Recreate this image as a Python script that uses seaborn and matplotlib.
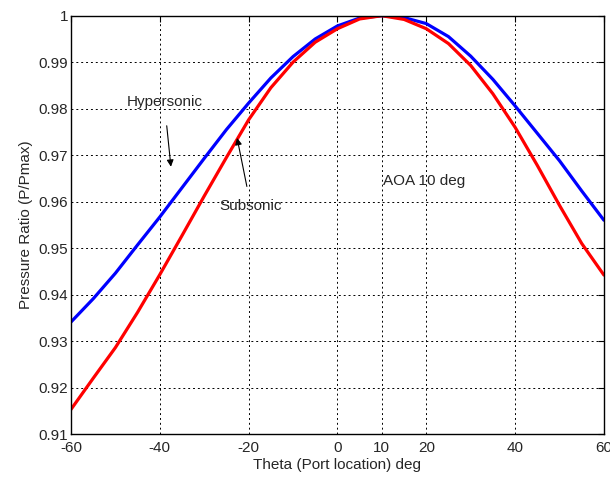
import numpy as np
import pandas as pd
import seaborn as sns
import matplotlib
matplotlib.use('Agg')
import matplotlib.pyplot as plt

## DATA ##
theta = [-60, -55, -50, -45, -40, -35, -30, -25, -20, -15, -10, -5, 0,
         5, 10, 15, 20, 25, 30, 35, 40, 45, 50, 55, 60]
hypersonic = [0.9341, 0.9391, 0.9446, 0.9507, 0.9567, 0.9630, 0.9693, 0.9755,
              0.9812, 0.9866, 0.9912, 0.9950, 0.9978, 0.9995, 1.0000, 0.9996,
              0.9983, 0.9955, 0.9913, 0.9863, 0.9806, 0.9747, 0.9688, 0.9623,
              0.9560]
subsonic = [0.9153, 0.9220, 0.9286, 0.9362, 0.9443, 0.9527, 0.9612, 0.9695,
            0.9776, 0.9845, 0.9900, 0.9943, 0.9972, 0.9993, 1.0000, 0.9992,
            0.9972, 0.9940, 0.9893, 0.9832, 0.9760, 0.9678, 0.9592, 0.9510,
            0.9442]
xticks = [-60, -40, -20, 0, 10, 20, 40, 60]
yticks = [0.91, 0.92, 0.93, 0.94, 0.95, 0.96, 0.97, 0.98, 0.99, 1.0]
ylabels = ['0.91', '0.92', '0.93', '0.94', '0.95', '0.96', '0.97', '0.98', '0.99', '1']

df = pd.DataFrame({'theta': theta, 'Hypersonic': hypersonic, 'Subsonic': subsonic})

## PLOT ##
sns.set_style('white')
plt.rcParams['font.family'] = ['Liberation Sans', 'DejaVu Sans']

fig = plt.figure(figsize=(6.1, 4.8), dpi=100)
ax = fig.add_axes([0.1164, 0.0958, 0.8736, 0.8715])

sns.lineplot(data=df, x='theta', y='Hypersonic', color='#0000ff', lw=2.3, ax=ax)
sns.lineplot(data=df, x='theta', y='Subsonic', color='#ff0000', lw=2.3, ax=ax)

ax.set_xlim(-60, 60)
ax.set_ylim(0.91, 1.0)
ax.set_xticks(xticks)
ax.set_xticklabels([str(t) for t in xticks], fontsize=11)
ax.set_yticks(yticks)
ax.set_yticklabels(ylabels, fontsize=11)
ax.grid(True, color='black', linestyle=(0, (2, 3)), linewidth=0.7)
ax.tick_params(direction='in', length=4, top=True, right=True, color='black', pad=2)
ax.tick_params(axis='x', pad=5)
for s in ax.spines.values():
    s.set_color('black')
    s.set_linewidth(1.0)

ax.set_xlabel('Theta (Port location) deg', fontsize=11, labelpad=2)
ax.set_ylabel('Pressure Ratio (P/Pmax)', fontsize=11, labelpad=4)

# annotations
ax.annotate('Hypersonic', xy=(-37.5, 0.9675), xytext=(-39.0, 0.9815),
            ha='center', va='center', fontsize=11,
            arrowprops=dict(arrowstyle='-|>', color='black', lw=0.8,
                            shrinkA=10, shrinkB=0, mutation_scale=10))
ax.annotate('Subsonic', xy=(-22.6, 0.9737), xytext=(-19.5, 0.9590),
            ha='center', va='center', fontsize=11,
            arrowprops=dict(arrowstyle='-|>', color='black', lw=0.8,
                            shrinkA=7, shrinkB=0, mutation_scale=10))
ax.text(19.6, 0.9644, 'AOA 10 deg', ha='center', va='center', fontsize=11)

plt.savefig('out.png', dpi=100)
